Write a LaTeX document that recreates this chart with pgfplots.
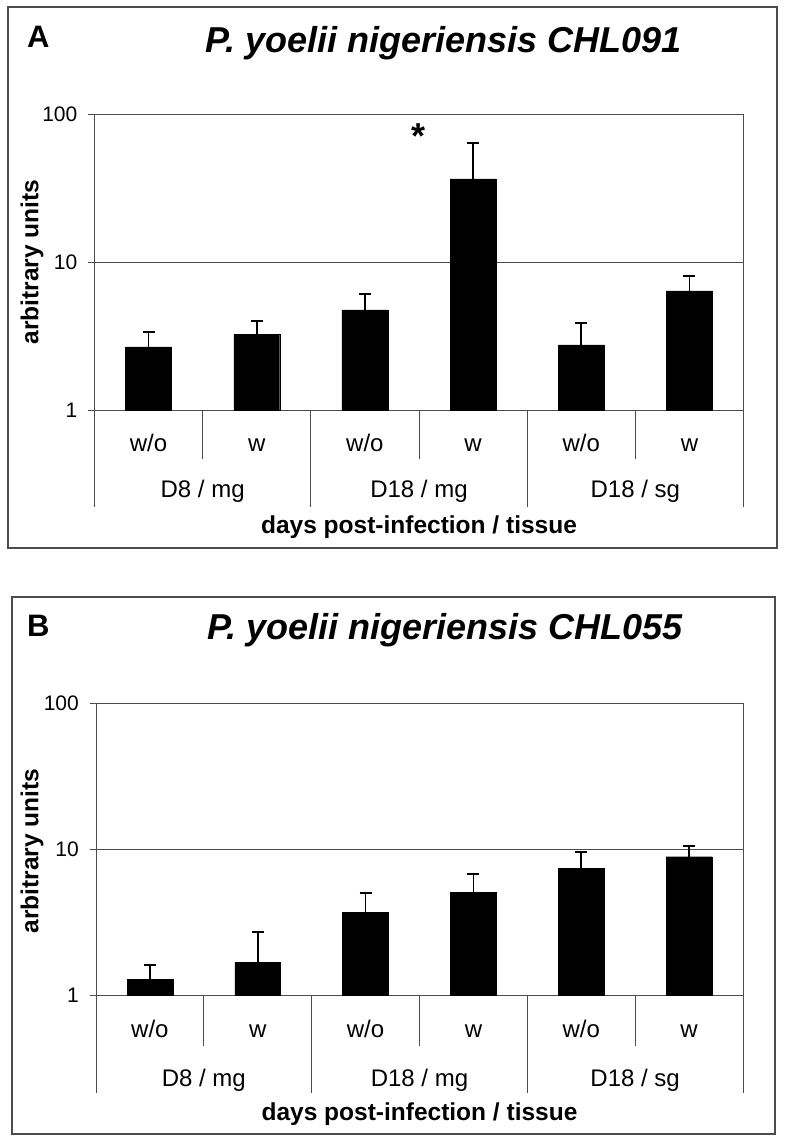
\documentclass[border=0pt]{standalone}
\usepackage{fontspec}
\setmainfont{Liberation Sans}
\usepackage{pgfplots}
\pgfplotsset{compat=1.18}
\usepackage{pgfplotstable}

% bar value (y) and upper error (e), arbitrary units; plotted on a log10 scale
\pgfplotstableread{
x y e
0.5 2.67 0.70
1.5 3.26 0.73
2.5 4.74 1.34
3.5 36.4 27.3
4.5 2.75 1.12
5.5 6.37 1.67
}\dataA
\pgfplotstableread{
x y e
0.5 1.28 0.32
1.5 1.67 1.04
2.5 3.68 1.34
3.5 5.02 1.69
4.5 7.38 2.11
5.5 8.85 1.64
}\dataB

\definecolor{lngray}{gray}{0.3}
\newcommand{\catfont}{\fontsize{24}{28}\selectfont}
\newcommand{\labfont}{\bfseries\fontsize{24.5}{28}\selectfont}
\newcommand{\titfont}{\bfseries\itshape\fontsize{36}{42}\selectfont}

\begin{document}
\begin{tikzpicture}
\path[use as bounding box] (0,0) rectangle (785pt,1143pt);
% frames
\draw[lngray, line width=1.4pt] (8pt,595pt) rectangle (777pt,1136pt);
\draw[lngray, line width=1.4pt] (12pt,9pt) rectangle (775pt,546pt);
% panel labels and titles
\node[anchor=base west, font=\bfseries\fontsize{31}{36}\selectfont, inner sep=0pt] at (27pt,1095pt) {A};
\node[anchor=base, font=\titfont, inner sep=0pt] at (443.5pt,1090pt) {P. yoelii nigeriensis CHL091};
\node[anchor=base west, font=\bfseries\fontsize{31}{36}\selectfont, inner sep=0pt] at (27pt,506pt) {B};
\node[anchor=base, font=\titfont, inner sep=0pt] at (445pt,503pt) {P. yoelii nigeriensis CHL055};
% y labels
\node[rotate=90, font=\labfont, inner sep=0pt] at (32pt,881pt) {arbitrary units};
\node[rotate=90, font=\labfont, inner sep=0pt] at (32pt,292pt) {arbitrary units};

\begin{axis}[scale only axis, width=649pt, height=296pt, at={(94.5pt,733pt)}, anchor=south west,
  xmin=0, xmax=6, ymin=0, ymax=2,
  xtick=\empty, ytick={0,1,2}, yticklabels={1,10,100},
  ymajorgrids, grid style={lngray, line width=0.9pt},
  axis line style={lngray, line width=0.9pt},
  major tick length=6pt, tick align=outside,
  tick style={lngray, line width=0.9pt}, ytick pos=left,
  yticklabel style={font=\fontsize{21}{25}\selectfont, inner xsep=11pt},
  clip=false]
\addplot[ybar, bar width=0.425, fill=black, draw=black,
  error bars/y dir=plus, error bars/y explicit,
  error bars/error bar style={black, line width=1.8pt},
  error bars/error mark options={rotate=90, black, line width=1.8pt, mark size=6pt}]
  table[x=x, y expr={log10(\thisrow{y})}, y error expr={log10(\thisrow{y}+\thisrow{e})-log10(\thisrow{y})}] {\dataA};
\node[font=\bfseries\fontsize{36}{40}\selectfont, inner sep=0pt] at (axis cs:3,1.85) {*};
\node[font=\catfont, anchor=base] at (axis cs:0.5,0) [yshift=-42pt] {w/o};
\node[font=\catfont, anchor=base] at (axis cs:1.5,0) [yshift=-42pt] {w};
\node[font=\catfont, anchor=base] at (axis cs:2.5,0) [yshift=-42pt] {w/o};
\node[font=\catfont, anchor=base] at (axis cs:3.5,0) [yshift=-42pt] {w};
\node[font=\catfont, anchor=base] at (axis cs:4.5,0) [yshift=-42pt] {w/o};
\node[font=\catfont, anchor=base] at (axis cs:5.5,0) [yshift=-42pt] {w};
\node[font=\catfont, anchor=base] at (axis cs:1,0) [yshift=-88pt] {D8 / mg};
\node[font=\catfont, anchor=base] at (axis cs:3,0) [yshift=-88pt] {D18 / mg};
\node[font=\catfont, anchor=base] at (axis cs:5,0) [yshift=-88pt] {D18 / sg};
\node[font=\labfont, anchor=base] at (axis cs:3,0) [yshift=-124pt] {days post-infection / tissue};
\draw[lngray, line width=0.9pt] (axis cs:1,0) -- ++(0pt,-49pt);
\draw[lngray, line width=0.9pt] (axis cs:3,0) -- ++(0pt,-49pt);
\draw[lngray, line width=0.9pt] (axis cs:5,0) -- ++(0pt,-49pt);
\draw[lngray, line width=0.9pt] (axis cs:0,0) -- ++(0pt,-97pt);
\draw[lngray, line width=0.9pt] (axis cs:2,0) -- ++(0pt,-97pt);
\draw[lngray, line width=0.9pt] (axis cs:4,0) -- ++(0pt,-97pt);
\draw[lngray, line width=0.9pt] (axis cs:6,0) -- ++(0pt,-97pt);
\end{axis}

\begin{axis}[scale only axis, width=647pt, height=292pt, at={(96pt,148pt)}, anchor=south west,
  xmin=0, xmax=6, ymin=0, ymax=2,
  xtick=\empty, ytick={0,1,2}, yticklabels={1,10,100},
  ymajorgrids, grid style={lngray, line width=0.9pt},
  axis line style={lngray, line width=0.9pt},
  major tick length=6pt, tick align=outside,
  tick style={lngray, line width=0.9pt}, ytick pos=left,
  yticklabel style={font=\fontsize{21}{25}\selectfont, inner xsep=11pt},
  clip=false]
\addplot[ybar, bar width=0.425, fill=black, draw=black,
  error bars/y dir=plus, error bars/y explicit,
  error bars/error bar style={black, line width=1.8pt},
  error bars/error mark options={rotate=90, black, line width=1.8pt, mark size=6pt}]
  table[x=x, y expr={log10(\thisrow{y})}, y error expr={log10(\thisrow{y}+\thisrow{e})-log10(\thisrow{y})}] {\dataB};
\node[font=\catfont, anchor=base] at (axis cs:0.5,0) [yshift=-43pt] {w/o};
\node[font=\catfont, anchor=base] at (axis cs:1.5,0) [yshift=-43pt] {w};
\node[font=\catfont, anchor=base] at (axis cs:2.5,0) [yshift=-43pt] {w/o};
\node[font=\catfont, anchor=base] at (axis cs:3.5,0) [yshift=-43pt] {w};
\node[font=\catfont, anchor=base] at (axis cs:4.5,0) [yshift=-43pt] {w/o};
\node[font=\catfont, anchor=base] at (axis cs:5.5,0) [yshift=-43pt] {w};
\node[font=\catfont, anchor=base] at (axis cs:1,0) [yshift=-91pt] {D8 / mg};
\node[font=\catfont, anchor=base] at (axis cs:3,0) [yshift=-91pt] {D18 / mg};
\node[font=\catfont, anchor=base] at (axis cs:5,0) [yshift=-91pt] {D18 / sg};
\node[font=\labfont, anchor=base] at (axis cs:3,0) [yshift=-125pt] {days post-infection / tissue};
\draw[lngray, line width=0.9pt] (axis cs:1,0) -- ++(0pt,-51pt);
\draw[lngray, line width=0.9pt] (axis cs:3,0) -- ++(0pt,-51pt);
\draw[lngray, line width=0.9pt] (axis cs:5,0) -- ++(0pt,-51pt);
\draw[lngray, line width=0.9pt] (axis cs:0,0) -- ++(0pt,-98pt);
\draw[lngray, line width=0.9pt] (axis cs:2,0) -- ++(0pt,-98pt);
\draw[lngray, line width=0.9pt] (axis cs:4,0) -- ++(0pt,-98pt);
\draw[lngray, line width=0.9pt] (axis cs:6,0) -- ++(0pt,-98pt);
\end{axis}
\end{tikzpicture}
\end{document}
